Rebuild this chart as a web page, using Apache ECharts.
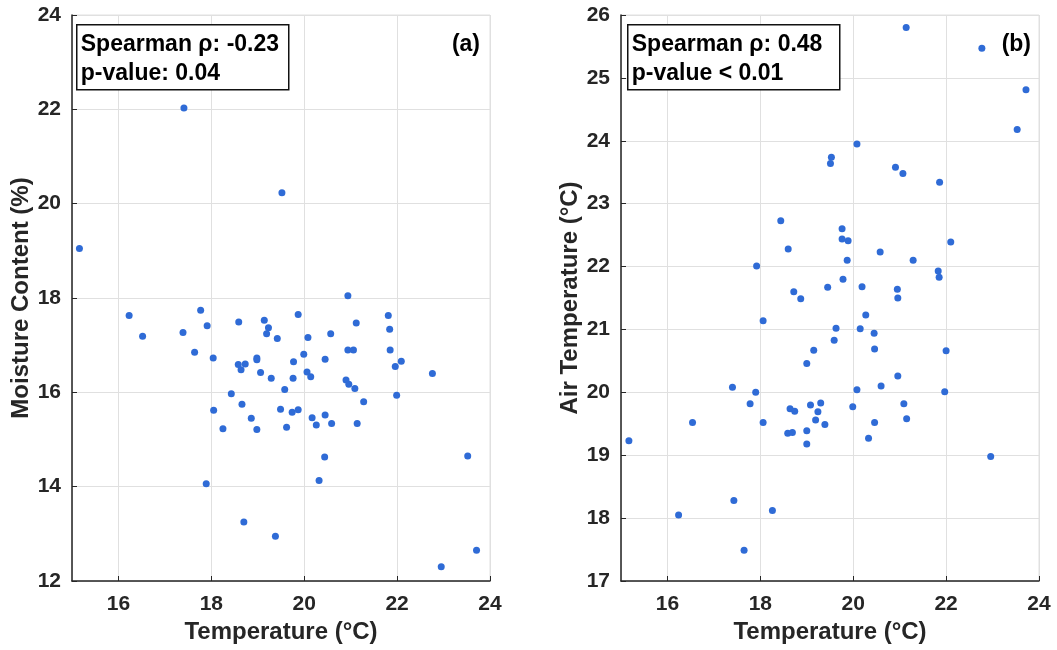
<!DOCTYPE html>
<html>
<head>
<meta charset="utf-8">
<script src="https://cdn.jsdelivr.net/npm/echarts@6/dist/echarts.min.js"></script>
<style>
html,body{margin:0;padding:0;background:#fff;}
#chart{width:1057px;height:650px;}
</style>
</head>
<body>
<div id="chart"></div>
<script>
// Panel (a): Temperature (°C) vs Moisture Content (%)
const tempA = [15.16,17.41,19.52,20.94,16.23,16.52,17.39,17.64,17.77,17.91,18.04,18.59,18.58,18.64,18.73,18.98,18.98,19.06,19.14,19.23,19.19,19.42,19.29,18.43,18.66,18.05,18.86,18.25,18.98,19.49,17.89,18.70,19.38,19.87,20.08,20.57,19.99,19.77,19.76,19.58,20.06,20.14,20.45,21.12,20.94,21.06,21.81,21.84,21.85,22.09,21.96,22.76,20.90,20.96,21.09,21.99,21.28,19.74,19.87,20.17,20.45,19.62,20.26,20.59,21.14,20.44,20.32,23.52,23.71,22.95];
const moisture = [19.05,22.03,20.23,18.05,17.63,17.19,17.27,16.85,17.74,17.41,16.73,17.49,16.59,16.48,16.60,16.73,16.69,16.42,17.53,17.37,17.24,17.14,16.30,15.97,15.75,15.62,15.45,15.23,15.21,15.64,14.06,13.25,12.95,17.65,17.16,17.24,16.81,16.65,16.30,16.06,16.43,16.33,16.70,17.47,16.90,16.90,17.63,17.34,16.90,16.66,16.55,16.40,16.26,16.17,16.08,15.94,15.80,15.58,15.63,15.46,15.52,15.26,15.31,15.34,15.34,14.63,14.13,14.65,12.65,12.30];

// Panel (b): Temperature (°C) vs Air Temperature (°C)
const tempB = [18.44,18.60,17.92,18.72,18.87,21.14,22.77,23.72,23.53,20.08,19.53,19.51,20.91,21.07,21.86,19.76,19.76,19.89,20.58,22.10,19.87,21.29,21.83,21.85,19.45,19.78,20.19,20.95,20.96,18.06,19.15,19.00,17.40,17.90,17.78,18.06,15.17,16.54,18.64,18.74,19.08,19.30,19.24,19.19,18.59,18.69,19.00,19.00,17.43,16.24,18.26,17.65,20.27,19.63,20.15,20.45,19.59,20.46,22.00,20.96,20.60,20.08,21.97,19.99,21.09,19.39,21.15,20.46,20.33,22.96];
const airTemp = [22.73,22.28,22.01,21.60,21.49,25.80,25.47,24.81,24.18,23.95,23.74,23.64,23.58,23.48,23.34,22.60,22.44,22.41,22.23,22.39,22.10,22.10,21.93,21.83,21.67,21.80,21.68,21.64,21.50,21.14,20.67,20.46,20.08,20.00,19.82,19.52,19.23,19.52,19.74,19.70,19.80,19.83,19.69,19.56,19.35,19.36,19.39,19.18,18.28,18.05,18.12,17.49,21.23,21.02,21.01,20.94,20.83,20.69,20.66,20.26,20.10,20.04,20.01,19.77,19.82,19.49,19.58,19.52,19.27,18.98];

const xRange = [15, 24];
const yRangeA = [12, 24];
const yRangeB = [17, 26];
const xName = 'Temperature (°C)';
const yNameA = 'Moisture Content (%)';
const yNameB = 'Air Temperature (°C)';
const statsA = ['Spearman ρ: -0.23', 'p-value: 0.04'];
const statsB = ['Spearman ρ: 0.48', 'p-value < 0.01'];
const panelTags = ['(a)', '(b)'];

const FONT = 'Liberation Sans, Arial, sans-serif';
const DARK = '#262626';
const GRIDC = '#e0e0e0';
const DOT = '#2f6bd6';

function zip(a, b) { return a.map((v, i) => [v, b[i]]); }

function xAxisCfg(gi) {
  return {
    gridIndex: gi, type: 'value', min: xRange[0], max: xRange[1], splitNumber: 5,
    name: xName, nameLocation: 'middle', nameGap: 39,
    nameTextStyle: {fontFamily: FONT, fontWeight: 'bold', fontSize: 24, color: DARK},
    axisLine: {show: true, onZero: false, lineStyle: {color: DARK, width: 1.5}},
    axisTick: {show: true, inside: true, length: 5, lineStyle: {color: DARK, width: 1}},
    axisLabel: {showMinLabel: false, margin: 13, fontFamily: FONT, fontWeight: 'bold', fontSize: 21, color: DARK},
    splitLine: {show: true, lineStyle: {color: GRIDC, width: 1}}
  };
}
function yAxisCfg(gi, range, name, interval) {
  return {
    gridIndex: gi, type: 'value', min: range[0], max: range[1], interval: interval,
    name: name, nameLocation: 'middle', nameGap: 35, nameRotate: 90,
    nameTextStyle: {fontFamily: FONT, fontWeight: 'bold', fontSize: 24, color: DARK},
    axisLine: {show: true, onZero: false, lineStyle: {color: DARK, width: 1.5}},
    axisTick: {show: true, inside: true, length: 5, lineStyle: {color: DARK, width: 1}},
    axisLabel: {margin: 11, fontFamily: FONT, fontWeight: 'bold', fontSize: 21, color: DARK},
    splitLine: {show: true, lineStyle: {color: GRIDC, width: 1}}
  };
}

function statBox(left, lines) {
  return {
    type: 'group', left: left, top: 24, z: 100,
    children: [
      {type: 'rect', z: 100, shape: {x: 0, y: 0, width: 212, height: 65},
       style: {fill: '#fff', stroke: '#111', lineWidth: 1.5}},
      {type: 'text', z: 101, x: 4, y: 34, style: {text: lines.join('\n'), fontFamily: FONT, fontWeight: 'bold',
        fontSize: 23, lineHeight: 29, fill: '#000', verticalAlign: 'middle', align: 'left'}}
    ]
  };
}

const chart = echarts.init(document.getElementById('chart'), null, {renderer: 'canvas'});
chart.setOption({
  backgroundColor: '#fff',
  animation: false,
  grid: [
    {left: 72, top: 15, width: 418, height: 566, show: true, borderColor: GRIDC, borderWidth: 1, outerBoundsMode: 'none', containLabel: false},
    {left: 621, top: 15, width: 418, height: 566, show: true, borderColor: GRIDC, borderWidth: 1, outerBoundsMode: 'none', containLabel: false}
  ],
  xAxis: [xAxisCfg(0), xAxisCfg(1)],
  yAxis: [yAxisCfg(0, yRangeA, yNameA, 2), yAxisCfg(1, yRangeB, yNameB, 1)],
  series: [
    {type: 'scatter', xAxisIndex: 0, yAxisIndex: 0, data: zip(tempA, moisture), symbolSize: 7,
     itemStyle: {color: DOT, opacity: 1}},
    {type: 'scatter', xAxisIndex: 1, yAxisIndex: 1, data: zip(tempB, airTemp), symbolSize: 7,
     itemStyle: {color: DOT, opacity: 1}}
  ],
  graphic: [
    statBox(76, statsA),
    statBox(627, statsB),
    {type: 'text', z: 100, right: 1057 - 480, top: 33, style: {text: panelTags[0], fontFamily: FONT, fontWeight: 'bold', fontSize: 23, fill: '#000'}},
    {type: 'text', z: 100, right: 1057 - 1031, top: 33, style: {text: panelTags[1], fontFamily: FONT, fontWeight: 'bold', fontSize: 23, fill: '#000'}}
  ]
});
</script>
</body>
</html>
